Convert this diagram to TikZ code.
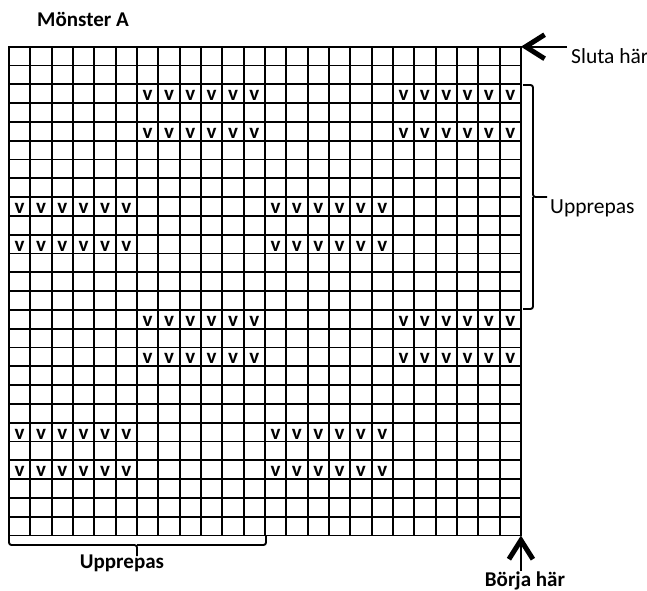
\documentclass[tikz,border=0pt]{standalone}
\usepackage{fontspec}
\setmainfont{Carlito}
\usetikzlibrary{arrows.meta}

\begin{document}
\begin{tikzpicture}[
  x=1pt, y=-1pt,
  rutlinje/.style={line width=1.9pt,line cap=rect},
  maske/.style={font=\fontsize{21}{21}\selectfont\bfseries,inner sep=0pt},
  brodtext/.style={inner sep=0pt,font=\fontsize{21.5}{23}\selectfont},
  fettext/.style={inner sep=0pt,font=\fontsize{21}{23}\selectfont\bfseries},
  klammer/.style={line width=1.9pt,rounded corners=2.5pt},
  pil/.style={line width=1.6pt,-{Straight Barb[length=19pt,width=24pt,line width=5pt]}}
]
  % background fixes the page size
  \fill[white] (0,0) rectangle (647,590);
  \useasboundingbox (0,0) rectangle (647,590);

  \node[fettext,anchor=base] (titel) at (83,26) {Mönster A};

  % the chart: 24 stitches x 26 rows
  \begin{scope}[shift={(9,46.7)},x=21.33pt,y=-18.8pt]
    \foreach \i in {0,...,24}
      \draw[rutlinje] (\i,0) -- (\i,26);
    \foreach \j in {0,...,26}
      \draw[rutlinje] (0,\j) -- (24,\j);
    \foreach \r in {2,4,14,16}
      \foreach \c in {0,...,5}{
        \node[maske] (v-\r-a\c) at ({\c+6.5},{\r+0.6}) {v};
        \node[maske] (v-\r-b\c) at ({\c+18.5},{\r+0.6}) {v};
      }
    \foreach \r in {8,10,20,22}
      \foreach \c in {0,...,5}{
        \node[maske] (v-\r-a\c) at ({\c+0.5},{\r+0.6}) {v};
        \node[maske] (v-\r-b\c) at ({\c+12.5},{\r+0.6}) {v};
      }
    \coordinate (slut-hörn) at (24,0);
    \coordinate (start-hörn) at (24,26);
  \end{scope}

  % repeat braces
  \coordinate (hk-a) at (523,85);
  \coordinate (hk-b) at (523,309);
  \draw[klammer] (hk-a) -| (533,197) -- (547,197);
  \draw[klammer] (533,197) |- (hk-b);
  \node[brodtext,anchor=base west] (uppr-h) at (550,213) {Upprepas};

  \coordinate (uk-a) at (9,535);
  \coordinate (uk-b) at (266,535);
  \draw[klammer] (uk-a) |- (137,545) -- (137,556);
  \draw[klammer] (137,545) -| (uk-b);
  \node[fettext,anchor=base] (uppr-u) at (122,568) {Upprepas};

  % start and end
  \node[brodtext,anchor=base west] (sluta) at (571,63) {Sluta här};
  \draw[pil] ([xshift=-4pt]sluta.west |- slut-hörn) -- (slut-hörn);
  \node[fettext,anchor=base] (borja) at (525,586) {Börja här};
  \draw[pil] (borja.north -| start-hörn) -- (start-hörn);
\end{tikzpicture}
\end{document}
